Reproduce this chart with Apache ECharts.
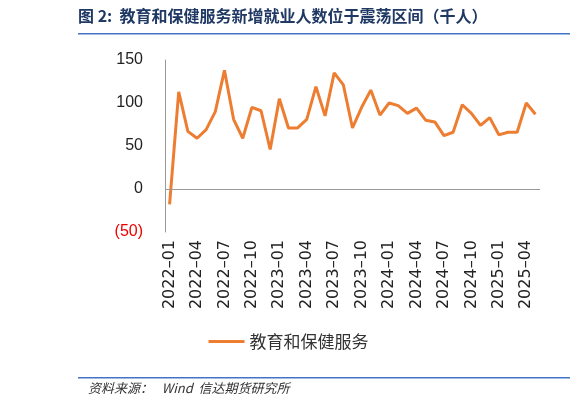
<!DOCTYPE html>
<html><head><meta charset="utf-8">
<script src="https://cdn.jsdelivr.net/npm/echarts/dist/echarts.min.js"></script>
<style>body{margin:0;background:#fff}#c{width:577px;height:408px}</style>
</head><body><div id="c"></div>
<script>
var seriesName = '教育和保健服务'
var values = [-18,113,67,59,69,90,138,81,59,95,91,46,105,71,71,81,119,85,135,121,71,95,115,86,100,97,88,94,80,78,62,66,98,88,74,83,63,66,66,100,87]
var months = []
for (var i = 0; i < values.length; i++) {
	var y = 2022 + Math.floor(i / 12), m = i % 12 + 1
	months.push(y + '–' + (m < 10 ? '0' + m : m))
}

var chart = echarts.init(document.getElementById('c'))
chart.setOption({
	animation: false,
	graphic: [
		{type: 'text', left: 78, top: 8, style: {text: '图 2:  教育和保健服务新增就业人数位于震荡区间（千人）', font: 'bold 16px "Noto Sans CJK SC"', fill: '#1f3864'}},
		{type: 'rect', shape: {x: 78, y: 33, width: 492, height: 1.5}, style: {fill: '#4472c4'}},
		{type: 'rect', shape: {x: 78, y: 377, width: 492, height: 1.5}, style: {fill: '#4472c4'}},
		{type: 'text', left: 88, top: 382, style: {text: '资料来源：   Wind  信达期货研究所', font: 'italic 13px "Noto Sans CJK SC"', fill: '#333'}}
	],
	grid: {left: 165, right: 37, top: 60, bottom: 176},
	legend: {bottom: 53, left: 'center', itemWidth: 36, itemHeight: 3, icon: 'rect',
		textStyle: {fontSize: 17, color: '#333', fontFamily: 'Noto Sans CJK SC'}},
	xAxis: {type: 'category', data: months, boundaryGap: true,
		axisLine: {show: false}, axisTick: {show: false},
		axisLabel: {rotate: 90, interval: 2, fontSize: 16, fontFamily: 'DejaVu Sans', color: '#222', margin: 8}},
	yAxis: {type: 'value', min: -50, max: 150, interval: 50,
		axisLine: {show: true, lineStyle: {color: '#999'}}, splitLine: {show: false},
		axisLabel: {fontSize: 16, margin: 22,
			formatter: function (v) { return v < 0 ? '{r|(' + (-v) + ')}' : v },
			rich: {r: {color: '#e00', fontSize: 16}}, color: '#222'}},
	series: [{name: seriesName, type: 'line', data: values, symbol: 'none',
		lineStyle: {color: '#ed7d31', width: 3}, itemStyle: {color: '#ed7d31'},
		markLine: {silent: true, symbol: 'none', label: {show: false},
			lineStyle: {color: '#999', type: 'solid', width: 1}, data: [{yAxis: 0}]}}]
})
</script></body></html>
